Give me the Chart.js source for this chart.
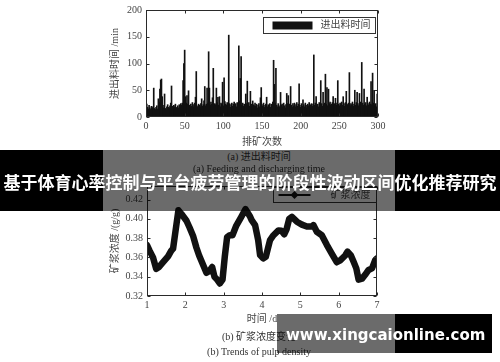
<!DOCTYPE html>
<html><head><meta charset="utf-8">
<script src="https://cdn.jsdelivr.net/npm/chart.js@4/dist/chart.umd.min.js"></script>
<style>
html,body{margin:0;padding:0;background:#fff}
body{width:500px;height:362px;position:relative;overflow:hidden}
canvas{position:absolute;left:0}
#c1{top:0}
#c2{top:170px}
.cap{position:absolute;left:0;width:518px;text-align:center;font-family:"Liberation Serif","Noto Sans CJK SC",serif;font-size:10px;line-height:12px;color:#333;white-space:nowrap}
.blk{position:absolute;background:#000}
.dim{position:absolute;background:rgba(0,0,0,0.58)}
#bannerText{position:absolute;left:0;top:171px;width:500px;text-align:center;font-family:"Noto Sans CJK SC",sans-serif;font-weight:700;font-size:17px;line-height:22px;color:#fff;white-space:nowrap}
#wmText{position:absolute;left:286px;top:325px;font-family:"DejaVu Sans",sans-serif;font-weight:700;font-size:15px;line-height:20px;color:#fff;white-space:nowrap}
</style>
</head><body>
<canvas id="c1" width="500" height="150"></canvas>
<canvas id="c2" width="500" height="192"></canvas>
<div class="cap" style="top:151px">(a) 进出料时间</div>
<div class="cap" style="top:163px">(a) Feeding and discharging time</div>
<div class="cap" style="top:331px">(b) 矿浆浓度变化</div>
<div class="cap" style="top:346px">(b) Trends of pulp density</div>
<div class="blk" style="left:0;top:150px;width:103px;height:61px"></div>
<div class="dim" style="left:103px;top:150px;width:292px;height:61px"></div>
<div class="blk" style="left:395px;top:150px;width:105px;height:61px"></div>
<div id="bannerText">基于体育心率控制与平台疲劳管理的阶段性波动区间优化推荐研究</div>
<div class="dim" style="left:277px;top:314px;width:118px;height:39px"></div>
<div class="blk" style="left:395px;top:314px;width:97px;height:39px"></div>
<div id="wmText">www.xingcaionline.com</div>
<script>
// ---- data ----
const feedIndex = Array.from({length: 300}, (_, i) => i + 1);
const feedTime = [
 24,18,15,22,17,14,20,16,19,54,
 16,14,18,21,15,34,28,52,69,71,
 38,22,17,43,16,14,19,23,18,17,
 21,26,58,20,17,22,19,24,16,18,
 21,17,23,19,25,22,26,68,100,125,
 38,26,40,24,49,22,18,24,20,27,
 19,23,26,37,85,21,18,24,22,19,
 25,34,20,23,30,57,21,24,54,26,
 122,54,22,28,24,36,91,20,25,23,
 54,27,37,22,38,19,26,24,65,21,
 73,29,24,22,27,21,153,25,18,23,
 26,20,24,28,21,25,19,27,24,133,
 30,72,113,22,26,20,24,18,43,25,
 67,22,27,20,48,24,19,30,23,21,
 26,20,24,17,22,25,19,36,55,23,
 20,26,18,22,24,37,19,23,21,25,
 18,24,22,28,106,61,26,91,22,19,
 25,21,18,46,22,24,19,26,21,17,
 23,44,25,40,20,24,57,22,18,25,
 21,26,19,23,27,20,24,62,22,18,
 25,20,32,23,19,26,22,17,24,21,
 27,19,23,25,20,24,116,22,26,38,
 21,24,19,27,22,68,25,20,46,23,
 26,80,24,55,21,52,25,28,22,24,
 27,38,23,25,35,22,26,68,24,21,
 26,23,28,22,38,25,20,27,48,24,
 22,26,83,21,25,23,28,20,24,50,
 22,27,46,25,21,44,28,23,102,26,
 22,52,24,27,21,37,25,22,28,24,
 66,23,82,26,50,21,25,19,43,24
];
const feedXTicks = [0, 50, 100, 150, 200, 250, 300];
const feedYTicks = [0, 50, 100, 150, 200];

const dayX = [1.0,1.07,1.16,1.24,1.31,1.42,1.55,1.63,1.68,1.75,1.82,1.90,2.03,2.11,2.20,2.29,2.36,2.44,2.55,2.63,2.70,2.76,2.83,2.90,2.97,3.03,3.09,3.16,3.23,3.33,3.46,3.57,3.68,3.73,3.82,3.90,3.95,4.03,4.10,4.21,4.30,4.43,4.51,4.58,4.64,4.71,4.78,4.91,5.04,5.17,5.30,5.34,5.43,5.56,5.69,5.82,5.95,6.04,6.17,6.23,6.32,6.39,6.46,6.52,6.61,6.69,6.78,6.87,6.95,7.0];
const pulpDensity = [0.3726,0.3667,0.3596,0.348,0.350,0.355,0.361,0.3667,0.369,0.389,0.4088,0.405,0.398,0.391,0.3825,0.370,0.362,0.3544,0.344,0.346,0.350,0.340,0.337,0.333,0.337,0.361,0.381,0.383,0.383,0.393,0.402,0.410,0.403,0.3986,0.3935,0.378,0.3624,0.359,0.3607,0.378,0.383,0.388,0.3876,0.384,0.389,0.400,0.402,0.397,0.394,0.392,0.392,0.3935,0.3866,0.383,0.373,0.364,0.355,0.357,0.362,0.366,0.362,0.3555,0.3486,0.337,0.338,0.342,0.347,0.3486,0.357,0.359];
const dayTicks = [1, 2, 3, 4, 5, 6, 7];
const densityTicks = [0.32, 0.34, 0.36, 0.38, 0.40, 0.42];

// ---- shared styling ----
const SERIF = '"Liberation Serif","Noto Sans CJK SC",serif';
const TXT = '#444';

const framePlugin = {
  id: 'frame',
  afterDatasetsDraw(chart, args, o) {
    const {ctx, chartArea: a, scales} = chart;
    ctx.save();
    ctx.strokeStyle = '#2a2a2a';
    ctx.lineWidth = 1;
    const L = Math.round(a.left) + 0.5, R = Math.round(a.right) - 0.5;
    const T = Math.round(a.top) + 0.5, B = Math.round(a.bottom) - 0.5;
    ctx.strokeRect(L, T, R - L, B - T);
    ctx.beginPath();
    o.xTicks.forEach(v => {
      const px = Math.round(scales.x.getPixelForValue(v)) + 0.5;
      ctx.moveTo(px, B); ctx.lineTo(px, B - 3);
      ctx.moveTo(px, T); ctx.lineTo(px, T + 3);
    });
    o.yTicks.forEach(v => {
      const py = Math.round(scales.y.getPixelForValue(v)) + 0.5;
      ctx.moveTo(L, py); ctx.lineTo(L + 3, py);
      ctx.moveTo(R, py); ctx.lineTo(R - 3, py);
    });
    ctx.stroke();
    // boxed legend
    const lg = o.legend;
    const bx = Math.round(a.right - lg.dx - lg.w) + 0.5, by = Math.round(a.top + lg.dy) + 0.5;
    ctx.fillStyle = '#fff';
    ctx.fillRect(bx, by, lg.w, lg.h);
    ctx.strokeStyle = '#333';
    ctx.strokeRect(bx, by, lg.w, lg.h);
    const cy = by + lg.h / 2;
    if (lg.kind === 'bar') {
      ctx.fillStyle = '#111';
      ctx.fillRect(bx + 9, cy - 4, 40, 8);
    } else {
      ctx.strokeStyle = '#111';
      ctx.lineWidth = 2;
      ctx.beginPath(); ctx.moveTo(bx + 5, cy); ctx.lineTo(bx + 37, cy); ctx.stroke();
      ctx.fillStyle = '#111';
      ctx.beginPath(); ctx.moveTo(bx + 21, cy - 4); ctx.lineTo(bx + 25, cy); ctx.lineTo(bx + 21, cy + 4); ctx.lineTo(bx + 17, cy); ctx.closePath(); ctx.fill();
    }
    ctx.fillStyle = TXT;
    ctx.font = '10px ' + SERIF;
    ctx.textBaseline = 'middle';
    ctx.textAlign = 'left';
    ctx.fillText(lg.label, bx + lg.tx, cy);
    ctx.restore();
  }
};

function axisTitle(text, pad) {
  return {display: true, text, color: TXT, font: {family: SERIF, size: 10}, padding: pad};
}

// ---- chart (a) ----
new Chart(document.getElementById('c1'), {
  type: 'bar',
  data: {
    datasets: [{
      label: '进出料时间',
      data: feedIndex.map((x, i) => ({x, y: feedTime[i]})),
      backgroundColor: '#111',
      borderWidth: 0,
      barThickness: 1,
    }]
  },
  options: {
    responsive: false, animation: false,
    layout: {padding: {left: 100, right: 122, top: 7, bottom: 0}},
    plugins: {
      legend: {display: false}, tooltip: {enabled: false},
      frame: {xTicks: feedXTicks, yTicks: feedYTicks,
        legend: {kind: 'bar', label: '进出料时间', w: 112, h: 16, dx: 3, dy: 7, tx: 57}}
    },
    scales: {
      x: {
        type: 'linear', min: 0, max: 300, offset: false,
        grid: {display: false, drawTicks: false}, border: {display: false},
        afterBuildTicks: s => { s.ticks = feedXTicks.map(v => ({value: v})); },
        afterFit: s => { s.height = 33; },
        ticks: {color: TXT, font: {family: SERIF, size: 10}, padding: 3, maxRotation: 0},
        title: axisTitle('排矿次数', {top: 0, bottom: 2})
      },
      y: {
        min: 0, max: 200,
        grid: {display: false, drawTicks: false}, border: {display: false},
        afterBuildTicks: s => { s.ticks = feedYTicks.map(v => ({value: v})); },
        afterFit: s => { s.width = 46; },
        ticks: {color: TXT, font: {family: SERIF, size: 10}, padding: 4},
        title: axisTitle('进出料时间 /min', {top: 9, bottom: 0})
      }
    }
  },
  plugins: [framePlugin]
});

// ---- chart (b) ----
new Chart(document.getElementById('c2'), {
  type: 'line',
  data: {
    datasets: [{
      label: '矿浆浓度',
      data: dayX.map((x, i) => ({x, y: pulpDensity[i]})),
      borderColor: '#111',
      borderWidth: 6.5,
      borderJoinStyle: 'round',
      borderCapStyle: 'round',
      pointRadius: 0,
      tension: 0
    }]
  },
  options: {
    responsive: false, animation: false,
    layout: {padding: {left: 100, right: 123, top: 16, bottom: 36}},
    plugins: {
      legend: {display: false}, tooltip: {enabled: false},
      frame: {xTicks: dayTicks, yTicks: densityTicks,
        legend: {kind: 'line', label: '矿浆浓度', w: 103, h: 15, dx: 1, dy: 1, tx: 57}}
    },
    scales: {
      x: {
        type: 'linear', min: 1, max: 7,
        grid: {display: false, drawTicks: false}, border: {display: false},
        afterBuildTicks: s => { s.ticks = dayTicks.map(v => ({value: v})); },
        afterFit: s => { s.height = 30; },
        ticks: {color: TXT, font: {family: SERIF, size: 10}, padding: 3, maxRotation: 0},
        title: axisTitle('时间 /d', {top: 0, bottom: 1})
      },
      y: {
        min: 0.32, max: 0.434,
        grid: {display: false, drawTicks: false}, border: {display: false},
        afterBuildTicks: s => { s.ticks = densityTicks.map(v => ({value: v})); },
        afterFit: s => { s.width = 47; },
        ticks: {color: TXT, font: {family: SERIF, size: 10}, padding: 4, callback: v => Number(v).toFixed(2)},
        title: axisTitle('矿浆浓度 /(g/g)', {top: 9, bottom: 0})
      }
    }
  },
  plugins: [framePlugin]
});
</script>
</body></html>
